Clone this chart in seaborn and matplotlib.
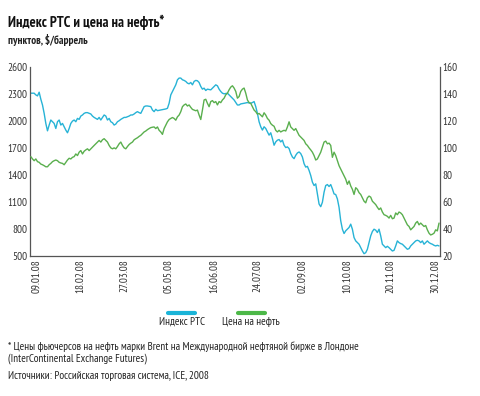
import numpy as np
import pandas as pd
import matplotlib
matplotlib.use("Agg")
import matplotlib.pyplot as plt
from matplotlib.lines import Line2D
import seaborn as sns

# индекс РТС, пункты (по торговым дням)
rts = [2309, 2309, 2309, 2290, 2279, 2320, 2242, 2178, 2085, 1973, 1891, 1955, 2011, 1992, 1973, 1917,
       1992, 2011, 1955, 1973, 1936, 1899, 1869, 1917, 1973, 1999, 2011, 1992, 2029, 2018, 2055, 2067,
       2085, 2093, 2093, 2085, 2078, 2055, 2040, 2029, 2018, 2040, 2011, 2040, 2067, 2055, 2011, 2029,
       1992, 1981, 1955, 1966, 1992, 2003, 2018, 2029, 2040, 2040, 2048, 2055, 2067, 2067, 2078, 2093,
       2104, 2093, 2085, 2122, 2160, 2167, 2167, 2164, 2160, 2122, 2104, 2130, 2115, 2119, 2122, 2126,
       2130, 2134, 2141, 2197, 2290, 2328, 2365, 2402, 2458, 2477, 2477, 2458, 2451, 2440, 2421, 2413,
       2428, 2402, 2440, 2451, 2447, 2428, 2384, 2354, 2365, 2339, 2354, 2350, 2346, 2365, 2384, 2402,
       2391, 2354, 2328, 2309, 2302, 2305, 2309, 2290, 2272, 2253, 2234, 2205, 2178, 2178, 2190,
       2193, 2197, 2201, 2205, 2201, 2197, 2205, 2216, 2160, 2085, 1992, 1936, 1899, 1936, 1917, 1880,
       1843, 1869, 1805, 1731, 1768, 1787, 1794, 1768, 1787, 1731, 1705, 1712, 1694, 1638, 1600, 1582,
       1619, 1645, 1656, 1638, 1600, 1526, 1488, 1496, 1451, 1395, 1321, 1283, 1302, 1190, 1078, 1048,
       1097, 1209, 1283, 1294, 1272, 1294, 1246, 1190, 1183, 1134, 1041, 892, 798, 750, 780, 798,
       817, 854, 798, 705, 668, 649, 631, 593, 556, 526, 537, 575, 649, 724, 772, 798,
       787, 761, 798, 724, 631, 612, 593, 608, 593, 575, 556, 563, 612, 668, 649, 638,
       631, 612, 593, 575, 582, 612, 631, 649, 668, 675, 668, 649, 668, 631, 649, 668,
       649, 638, 631, 619, 612, 619, 612]

# нефть Brent, $/баррель
oil = [93.6, 91.9, 90.6, 91.9, 89.9, 89.4, 88.1, 87.6, 86.9, 86.1, 86.1, 87.6, 88.6, 89.9, 90.6, 91.1,
       90.6, 89.4, 88.9, 88.6, 87.6, 89.4, 91.1, 92.4, 91.9, 93.1, 93.6, 95.6, 94.4, 96.9, 98.1, 95.6,
       97.6, 98.6, 99.4, 98.1, 99.4, 100.6, 101.9, 103.1, 104.4, 105.6, 104.4, 106.1, 106.9, 105.6, 104.4, 101.9,
       100.1, 99.4, 100.1, 99.4, 101.1, 103.1, 104.4, 101.9, 100.1, 99.4, 101.1, 102.6, 103.6, 104.4, 106.1, 106.9,
       107.6, 108.6, 109.4, 110.6, 111.9, 112.6, 113.6, 114.4, 115.1, 115.4, 115.6, 114.4, 115.6, 113.1, 111.9, 110.1,
       114.4, 116.9, 119.4, 121.1, 121.9, 122.6, 121.9, 120.6, 123.1, 124.4, 126.9, 130.6, 131.9, 132.6, 131.1, 131.9,
       130.1, 128.6, 128.1, 127.6, 128.1, 124.4, 121.1, 128.1, 135.6, 136.1, 133.1, 130.6, 134.4, 135.1, 133.6, 134.4,
       131.9, 134.4, 133.6, 135.6, 136.9, 139.4, 140.6, 143.1, 145.1, 146.1, 144.4, 141.9, 136.9, 138.1, 141.9,
       143.6, 144.4, 140.6, 135.6, 133.6, 133.1, 130.6, 128.1, 126.9, 125.1, 125.6, 124.4, 123.1, 126.1, 124.4, 121.9,
       120.6, 118.1, 116.9, 116.1, 113.1, 111.9, 113.1, 111.9, 112.6, 113.1, 112.6, 115.6, 119.4, 115.6, 114.4, 113.1,
       114.4, 111.9, 109.4, 108.1, 106.9, 105.6, 103.1, 101.9, 100.1, 98.6, 96.9, 94.4, 91.1, 91.9, 94.4, 96.9,
       100.6, 104.4, 105.1, 103.1, 103.6, 101.9, 93.1, 96.9, 94.4, 90.6, 86.9, 84.4, 81.9, 79.4, 76.9, 73.1,
       75.6, 71.9, 69.4, 65.6, 70.6, 69.4, 66.9, 65.6, 63.1, 60.6, 59.4, 63.1, 64.4, 63.6, 60.6, 59.4,
       58.1, 56.1, 54.4, 55.6, 52.6, 50.6, 50.1, 49.4, 48.1, 50.1, 47.6, 48.1, 51.9, 50.6, 52.6, 51.9,
       50.6, 48.1, 45.6, 43.1, 41.9, 39.4, 40.6, 41.9, 44.4, 45.6, 43.1, 44.4, 43.1, 41.9, 42.6, 39.4,
       36.9, 35.6, 36.1, 36.9, 39.4, 38.6, 44.4]

tick_idx = [3, 30, 56, 83, 110, 136, 163, 190, 216, 243]
tick_labels = ["09.01.08", "18.02.08", "27.03.08", "05.05.08", "16.06.08",
               "24.07.08", "02.09.08", "10.10.08", "20.11.08", "30.12.08"]

blue = "#27b3d6"
green = "#5aaf4e"

sns.set_style("white")
plt.rcParams["font.family"] = ["PT Sans Narrow", "DejaVu Sans"]

df_rts = pd.DataFrame({"day": np.arange(len(rts)), "val": rts})
df_oil = pd.DataFrame({"day": np.arange(len(oil)), "val": oil})

fig = plt.figure(figsize=(4.81, 3.96), dpi=100)
ax = fig.add_axes([0.0634, 0.3535, 0.8514, 0.4773])
ax2 = ax.twinx()

sns.lineplot(data=df_rts, x="day", y="val", ax=ax, color=blue, linewidth=1.0)
sns.lineplot(data=df_oil, x="day", y="val", ax=ax2, color=green, linewidth=1.0)

ax.set_xlim(-0.2, 245.6)
ax.set_ylim(500, 2600)
ax.set_yticks(range(500, 2601, 300))
ax2.set_ylim(20, 160)
ax2.set_yticks(range(20, 161, 20))
ax.set_xticks(tick_idx)
ax.set_xticklabels(tick_labels, rotation=90)
for a in (ax, ax2):
    a.set_xlabel("")
    a.set_ylabel("")
    a.tick_params(length=0, labelsize=8, colors="#333333", pad=2)
    for s in a.spines.values():
        s.set_color("#555555")
        s.set_linewidth(0.9)
    a.spines["top"].set_visible(False)
ax2.spines["left"].set_visible(False)
ax2.spines["bottom"].set_visible(False)
ax.spines["right"].set_visible(False)

# легенда: плашки с подписями под ними
fig.add_artist(Line2D([168 / 481, 195 / 481], [1 - 313 / 396] * 2, transform=fig.transFigure,
                      color="#1ab4d8", linewidth=3))
fig.add_artist(Line2D([238 / 481, 265 / 481], [1 - 313 / 396] * 2, transform=fig.transFigure,
                      color="#4cb848", linewidth=3))
fig.text(182 / 481, 1 - 322 / 396, "Индекс РТС", ha="center", va="center", fontsize=8, color="#222222")
fig.text(251 / 481, 1 - 322 / 396, "Цена на нефть", ha="center", va="center", fontsize=8, color="#222222")

fig.text(8 / 481, 1 - 22 / 396, "Индекс РТС и цена на нефть*", fontsize=10.5, fontweight="bold",
         va="center", color="#111111")
fig.text(8 / 481, 1 - 40 / 396, "пунктов, $/баррель", fontsize=8, fontweight="bold",
         va="center", color="#222222")
fig.text(8 / 481, 1 - 347 / 396,
         "* Цены фьючерсов на нефть марки Brent на Международной нефтяной бирже в Лондоне",
         fontsize=8, va="center", color="#222222")
fig.text(8 / 481, 1 - 359 / 396, "(InterContinental Exchange Futures)",
         fontsize=8, va="center", color="#222222")
fig.text(8 / 481, 1 - 376 / 396, "Источники: Российская торговая система, ICE, 2008",
         fontsize=8, va="center", color="#222222")

fig.savefig("out.png", dpi=100)
